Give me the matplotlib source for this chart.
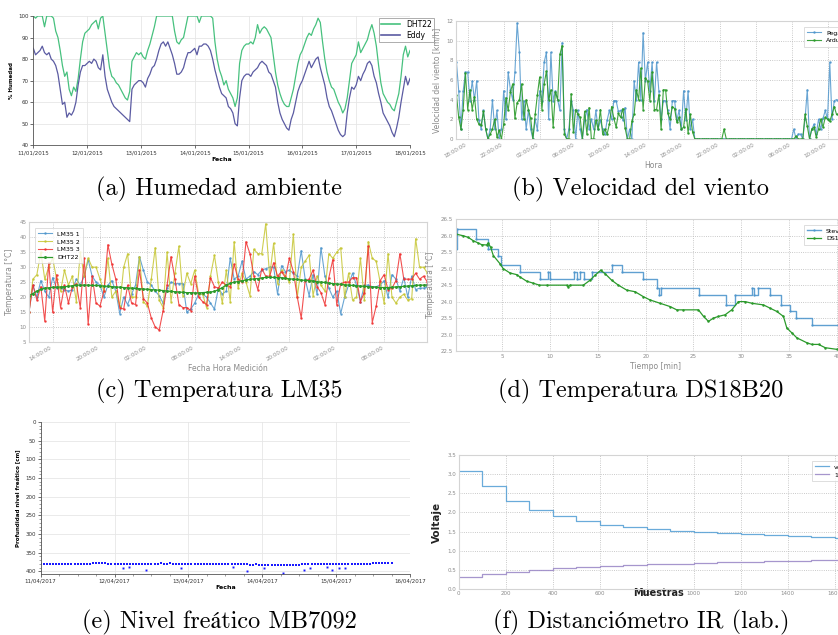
import numpy as np
import matplotlib.pyplot as plt
from matplotlib.ticker import FixedLocator, MultipleLocator, FuncFormatter

# (a) Humedad ambiente, hourly samples from 11/01/2015 00:00
dates_a = ['11/01/2015', '12/01/2015', '13/01/2015', '14/01/2015',
           '15/01/2015', '16/01/2015', '17/01/2015', '18/01/2015']
dht22_a = [100, 99, 100, 100, 100, 95, 100, 100, 100, 99, 93, 90, 84, 77, 72, 74, 66, 63, 67, 65, 71, 80, 88, 92,
           93, 94, 96, 97, 98, 94, 99, 100, 92, 84, 76, 72, 71, 69, 68, 66, 64, 62, 61, 65, 79, 81, 83, 82,
           83, 81, 80, 84, 87, 91, 95, 100, 100, 100, 100, 100, 100, 100, 100, 93, 88, 87, 89, 90, 95, 100, 100, 100,
           100, 100, 97, 100, 100, 100, 100, 100, 99, 88, 80, 75, 72, 68, 70, 66, 64, 62, 58, 62, 78, 84, 86, 87,
           87, 88, 87, 90, 96, 92, 94, 95, 94, 92, 90, 82, 74, 68, 64, 61, 59, 58, 58, 62, 66, 72, 78, 82,
           84, 87, 90, 92, 91, 94, 96, 99, 97, 88, 80, 74, 70, 67, 66, 63, 60, 58, 55, 57, 62, 70, 78, 80,
           82, 88, 83, 85, 87, 89, 93, 96, 92, 86, 77, 69, 64, 62, 60, 59, 57, 56, 60, 64, 72, 82, 86, 81, 84]
eddy_a = [85, 82, 83, 84, 86, 83, 82, 83, 80, 79, 77, 73, 66, 59, 60, 53, 55, 54, 56, 60, 68, 74, 77, 77,
          78, 79, 78, 80, 79, 76, 75, 82, 72, 66, 63, 60, 58, 57, 56, 55, 54, 53, 52, 51, 66, 68, 69, 70,
          70, 69, 67, 71, 73, 76, 77, 80, 84, 87, 88, 86, 88, 85, 82, 78, 73, 73, 74, 76, 80, 83, 83, 84,
          85, 82, 86, 86, 87, 87, 86, 84, 80, 75, 71, 67, 64, 63, 62, 58, 57, 55, 50, 49, 62, 70, 72, 73,
          73, 72, 74, 75, 76, 78, 79, 78, 77, 74, 73, 70, 67, 60, 55, 52, 50, 48, 47, 52, 55, 60, 65, 68,
          70, 73, 76, 79, 76, 78, 80, 81, 76, 72, 68, 62, 58, 56, 53, 50, 47, 45, 44, 45, 55, 62, 67, 66,
          68, 72, 70, 73, 75, 78, 79, 77, 72, 69, 64, 60, 55, 53, 51, 49, 46, 44, 48, 53, 60, 66, 72, 68, 71]

# (b) Velocidad del viento, every 15 min from 16:45 of day 1 (hours)
start_b = 16.75
pegasus = [7.8,
           4.9, 1.0, 4.9, 6.8, 6.8, 3.9, 5.9, 4.0, 5.9, 1.9, 1.0, 2.9, 1.0, 0.0, 1.0, 4.0,
           1.0, 2.9, 0.0, 1.0, 4.9, 2.0, 6.8, 5.0, 4.0, 6.8, 11.8, 8.8, 2.0, 3.9, 1.0, 2.9,
           1.0, 0.0, 2.0, 0.9, 4.9, 3.9, 7.8, 8.8, 2.0, 8.8, 3.9, 4.9, 4.0, 2.9, 9.8, 1.0,
           0.0, 1.0, 3.9, 2.9, 0.0, 2.9, 1.0, 0.0, 1.9, 3.0, 1.0, 2.0, 1.0, 2.9, 1.0, 1.9,
           1.0, 0.5, 1.9, 2.9, 2.0, 3.9, 3.9, 2.8, 2.9, 1.9, 3.2, 0.0, 1.0, 0.0, 5.9, 4.0,
           7.8, 4.0, 10.8, 5.9, 7.8, 4.9, 7.8, 3.9, 7.8, 4.9, 2.0, 3.9, 3.9, 2.9, 1.0, 3.9,
           3.9, 1.9, 2.9, 1.0, 4.9, 1.9, 4.9, 1.0, 2.0, 0.0, 0.0, 0.0,
           0, 0, 0, 0, 0, 0, 0, 0, 0, 0, 0, 0, 0, 0, 0, 0, 0, 0, 0, 0,
           0, 0, 0, 0, 0, 0, 0, 0, 0, 0, 0, 0, 0, 0, 0, 0, 0, 0, 0, 0,
           0.0, 1.0, 0.0, 0.5, 0.5, 0.0, 2.0, 5.0, 0.0, 1.0, 1.5, 0.5,
           2.0, 1.0, 2.1, 2.9, 2.0, 7.8, 2.0, 3.9, 4.0]
arduino = [4.5,
           2.2, 1.0, 3.0, 6.7, 3.0, 5.0, 3.0, 4.3, 2.0, 1.5, 1.4, 2.8, 1.0, 0.0, 0.5, 1.0,
           2.0, 0.2, 0.9, 0.0, 1.5, 4.2, 2.9, 4.8, 5.6, 2.1, 3.7, 4.0, 5.6, 2.0, 4.0, 3.0,
           2.1, 0.0, 2.5, 4.5, 6.3, 3.0, 5.6, 6.9, 4.0, 5.0, 1.2, 4.8, 4.0, 8.6, 9.5, 0.5,
           0.0, 0.0, 4.6, 0.7, 3.0, 2.5, 2.2, 0.0, 2.8, 0.5, 3.2, 0.0, 0.0, 1.9, 1.0, 3.0,
           0.5, 1.0, 0.5, 1.5, 3.3, 2.1, 1.2, 2.6, 2.2, 3.1, 1.1, 0.0, 0.0, 1.8, 2.5, 5.0,
           4.0, 7.2, 3.0, 6.2, 5.9, 3.9, 6.8, 3.0, 3.0, 4.5, 1.0, 5.0, 5.0, 2.6, 2.0, 3.3,
           3.1, 1.7, 2.2, 1.0, 1.2, 3.1, 0.6, 2.5, 0.7, 0.0, 0.0, 0.0,
           0, 0, 0, 0, 0, 0, 0, 0, 0, 0, 1.0, 0, 0, 0, 0, 0, 0, 0, 0, 0,
           0, 0, 0, 0, 0, 0, 0, 0, 0, 0, 0, 0, 0, 0, 0, 0, 0, 0, 0, 0,
           0.0, 0.0, 0.3, 0.0, 0.0, 0.0, 2.5, 1.3, 0.0, 1.0, 1.2, 0.2,
           1.0, 2.0, 1.2, 2.2, 2.0, 1.8, 2.5, 3.3, 2.5]

# (c) Temperatura LM35, every 30 min from 11:00 of day 1 (hours)
start_c = 11.0
lm35_1 = [15, 24, 20, 25.5, 22, 20, 26.5, 23, 23, 22.5, 22, 22.5, 26, 24, 27, 32.5, 27, 25, 24, 20,
          24, 25.5, 22, 14.5, 20, 17.5, 21, 24, 33.5, 29, 25, 24, 22, 20.5, 18, 23, 25, 24.5, 24.5, 24.5,
          15, 16, 18, 21, 21, 20, 18, 16, 23, 21, 22, 33, 26, 27, 32, 26, 27, 28.5, 27.5, 29,
          29.5, 30, 30, 21, 30.5, 28.5, 29, 28, 27, 35.5, 26, 20.5, 27.5, 21, 36.5, 27, 23, 20, 22, 14.5,
          20, 24, 28, 24, 18.5, 24, 24, 23.5, 23.5, 24, 25.5, 20, 27.5, 26, 22, 26.5, 20, 27, 22.5, 23,
          23, 23.5]
lm35_2 = [15, 26, 27.5, 35, 26, 30, 33, 26, 22, 29, 24, 27, 18.5, 35, 27, 33, 30, 30, 26, 22,
          33, 20, 22, 17, 30, 34.5, 20, 20, 33.5, 18.5, 17, 26, 36.5, 19, 16.5, 35, 18.5, 28, 37, 20.5,
          28, 24.5, 29, 21, 21, 16.5, 27, 34, 25, 18, 29, 18.5, 38.5, 23, 28, 25, 20.5, 36, 34.5, 34.5,
          44.5, 27, 38, 24.5, 29, 27, 25, 41, 20, 30, 32, 34, 20.5, 27, 24, 22, 34.5, 33, 35, 36.5,
          20, 28, 19, 20, 33, 19, 38.5, 33, 32, 25, 18, 34.5, 20, 18, 20, 21, 19, 19.5, 39.5, 30,
          30, 28]
lm35_3 = [15, 24, 19, 23.5, 12, 31.5, 15, 27.5, 16.5, 24, 18, 23.5, 24.5, 16.5, 33, 11, 27, 18, 17, 22,
          37.5, 31, 26, 16.5, 16, 24, 18, 17.5, 29, 19.5, 18, 13, 10, 9, 15.5, 24, 33.5, 26, 17.5, 16.5,
          16.5, 15.5, 27, 20, 18.5, 17.5, 26.5, 23.5, 23, 25, 24, 23.5, 31, 26, 25, 38.5, 34.5, 27, 22.5, 29.5,
          27, 27, 31.5, 27, 28.5, 26.5, 33, 28.5, 20, 13, 25.5, 26, 29, 23.5, 21.5, 17.5, 26.5, 32.5, 17.5, 24.5,
          25, 25, 26.5, 26.5, 18.5, 21.5, 37, 11.5, 17, 25.5, 27.5, 22.5, 23, 25.5, 34.5, 26, 26, 26, 28, 26,
          27, 25]
dht22_c = [20.5, 21.2, 22.0, 22.6, 23.0, 23.1, 23.3, 23.3, 23.4, 23.5, 23.6, 23.8, 24.0, 24.0, 24.0, 24.0, 23.9, 23.9, 23.8, 23.7,
           23.6, 23.5, 23.4, 23.3, 23.2, 23.1, 23.0, 22.9, 22.8, 22.7, 22.6, 22.5, 22.4, 22.3, 22.2, 22.0, 21.9, 21.8, 21.7, 21.6,
           21.5, 21.5, 21.4, 21.4, 21.5, 21.6, 21.7, 21.9, 22.5, 23.2, 24.0, 24.6, 25.0, 25.2, 25.5, 25.7, 25.9, 26.1, 26.2, 26.4,
           26.6, 26.6, 26.6, 26.5, 26.5, 26.3, 26.1, 26.0, 25.9, 25.7, 25.6, 25.5, 25.4, 25.1, 25.0, 24.9, 24.7, 24.5, 24.4, 24.3,
           24.1, 24.0, 23.9, 23.8, 23.7, 23.6, 23.5, 23.4, 23.3, 23.2, 23.2, 23.2, 23.3, 23.4, 23.5, 23.6, 23.7, 23.8, 23.9, 24.0,
           24.0, 24.1]

# (d) Temperatura DS18B20 (minutes)
steven_t = [0.15, 0.3, 2.3, 3.5, 4.5, 4.9, 6.85, 8.95, 9.75, 10.0, 12.5, 12.8, 13.1, 13.55, 14.35, 16.45,
            17.5, 19.75, 21.2, 21.4, 21.6, 25.6, 28.4, 29.3, 31.1, 31.3, 31.7, 33.0, 34.2, 35.1, 35.7, 37.4, 42.0]
steven_v = [25.6, 26.2, 25.9, 25.6, 25.4, 25.1, 24.9, 24.7, 24.9, 24.7, 24.9, 24.7, 24.9, 24.7, 24.9, 25.1,
            24.9, 24.7, 24.4, 24.2, 24.4, 24.2, 23.9, 24.2, 24.4, 24.2, 24.4, 24.2, 23.9, 23.7, 23.5, 23.3, 23.0]
ds18_t = [0.15, 0.92, 1.44, 1.96, 2.49, 2.84, 3.36, 3.53, 3.78, 4.06, 4.76, 5.1, 5.8, 6.5, 6.85, 7.55, 8.24,
          8.87, 9.64, 11.73, 11.9, 12.08, 13.48, 14.18, 14.7, 15.29, 15.75, 16.44, 17.14, 18.01, 18.89, 19.76,
          20.46, 21.5, 22.55, 23.25, 23.95, 25.52, 26.05, 26.57, 27.09, 27.61, 28.31, 29.0, 29.7, 30.4, 31.1,
          32.32, 33.02, 33.72, 34.41, 34.76, 35.29, 35.81, 36.86, 37.38, 38.08, 38.78, 40.0, 42.0]
ds18_v = [26.05, 26.0, 25.95, 25.85, 25.78, 25.73, 25.72, 25.78, 25.65, 25.4, 25.15, 25.0, 24.87, 24.82, 24.75,
          24.62, 24.56, 24.5, 24.5, 24.5, 24.45, 24.5, 24.5, 24.65, 24.8, 24.95, 24.85, 24.65, 24.5, 24.35, 24.3,
          24.15, 24.05, 23.95, 23.85, 23.75, 23.75, 23.75, 23.55, 23.4, 23.5, 23.55, 23.6, 23.75, 24.0, 24.0,
          23.95, 23.9, 23.8, 23.7, 23.55, 23.2, 23.05, 22.9, 22.75, 22.7, 22.7, 22.6, 22.55, 22.55]

# (e) Nivel freatico MB7092, hourly from 11/04/2017 00:00
dates_e = ['11/04/2017', '12/04/2017', '13/04/2017', '14/04/2017', '15/04/2017', '16/04/2017']
nivel = [380, 380, 379.5, 380, 380.5, 380, 379.5, 380, 380, 380.5, 380, 379.5, 380, 380, 380.5, 380, 379.5, 378, 377.5, 378, 378.5, 377.5, 379, 380,
         380.5, 380, 380.5, 380.5, 381, 380.5, 380, 380.5, 380.5, 380, 380.5, 380, 379.5, 379, 379, 378.5, 379, 379, 378.5, 379, 379.5, 380, 380, 380.5,
         381, 381, 380.5, 381, 381, 380.5, 381, 380.5, 380.5, 380, 380.5, 380, 380, 380.5, 380, 380, 381, 381, 381.5, 381, 382, 382, 381.5, 382,
         382, 382.5, 382, 382.5, 382.5, 383, 382.5, 383, 383, 382.5, 383, 382.5, 382.5, 381.5, 381, 380.5, 380, 380.5, 380, 380, 380.5, 381, 380.5, 380,
         380.5, 380, 381, 380.5, 380, 380, 379.5, 379.5, 379, 379, 379.5, 379, 378.5, 378.5, 378, 378, 377.5, 378, 377.5]
outlier_dia = [1.11, 1.19, 1.42, 1.90, 2.61, 2.79, 3.02, 3.28, 3.56, 3.65, 3.87, 3.95, 4.04, 4.12]
outlier_cm = [392, 388, 396, 392, 388, 399, 392, 404, 396, 391, 387, 396, 391, 391]

# (f) Distanciometro IR
muestras = [0, 100, 200, 300, 400, 500, 600, 700, 800, 900, 1000, 1100, 1200, 1300, 1400, 1500, 1600, 1700]
volt = [3.1, 2.69, 2.3, 2.06, 1.9, 1.77, 1.68, 1.62, 1.56, 1.51, 1.49, 1.45, 1.43, 1.40, 1.37, 1.36, 1.34, 1.34]
inv_volt = [0.32, 0.376, 0.43, 0.49, 0.53, 0.57, 0.595, 0.62, 0.64, 0.66, 0.67, 0.69, 0.70, 0.72, 0.73, 0.74, 0.75, 0.75]

captions = ['(a) Humedad ambiente', '(b) Velocidad del viento',
            '(c) Temperatura LM35', '(d) Temperatura DS18B20',
            '(e) Nivel freático MB7092', '(f) Distanciómetro IR (lab.)']

W, H = 838, 635
fig = plt.figure(figsize=(W / 100, H / 100), dpi=100)


def box(l, t, r, b):
    return [l / W, 1 - b / H, (r - l) / W, (b - t) / H]


def soft(ax):
    for s in ax.spines.values():
        s.set_color('#d4d4d4')
        s.set_linewidth(0.8)
    ax.grid(True, ls=':', color='#b8b8b8', lw=0.6)
    ax.tick_params(length=0, labelsize=4, labelcolor='#8a8a8a', pad=2)


def plain(ax):
    for s in ['top', 'right']:
        ax.spines[s].set_visible(False)
    for s in ['left', 'bottom']:
        ax.spines[s].set_color('#555555')
        ax.spines[s].set_linewidth(0.6)
    ax.grid(True, color='#e6e6e6', lw=0.6)
    ax.tick_params(length=2, width=0.5, labelsize=4, colors='#333333', pad=1.5)
    ax.set_axisbelow(True)


def legend_at(ax, x, y, **kw):
    leg = ax.legend(loc='upper left', bbox_to_anchor=(x / W, 1 - y / H), bbox_transform=fig.transFigure,
                    fontsize=4.5, fancybox=False, borderpad=0.5, labelspacing=0.4, handlelength=2.2, **kw)
    leg.get_frame().set_edgecolor('#cfcfcf')
    leg.get_frame().set_linewidth(0.6)
    return leg


# (a)
ax = fig.add_axes(box(33.3, 16, 410, 145.3))
plain(ax)
ha = np.arange(len(dht22_a))
ax.plot(ha, dht22_a, color='#47c17e', lw=0.9, label='DHT22')
ax.plot(ha, eddy_a, color='#5b5ba2', lw=0.9, label='Eddy')
ax.set_xlim(0, 168)
ax.set_ylim(40, 100)
ax.xaxis.set_major_locator(FixedLocator(np.arange(0, 169, 24)))
ax.set_xticklabels(dates_a)
ax.yaxis.set_major_locator(MultipleLocator(10))
ax.yaxis.set_major_formatter(FuncFormatter(lambda v, p: f'{v:.0f}'))
ax.set_xlabel('Fecha', fontsize=4.5, fontweight='bold', labelpad=1)
ax.set_ylabel('% Humedad', fontsize=4, fontweight='bold', labelpad=3)
leg = ax.legend(loc='upper left', bbox_to_anchor=(375 / W, 1 - 14 / H), bbox_transform=fig.transFigure,
                fontsize=5.5, fancybox=False, borderpad=0.3, labelspacing=0.2, handlelength=2.5)
leg.get_frame().set_edgecolor('#888888')
leg.get_frame().set_linewidth(0.6)
for l in leg.get_lines():
    l.set_linewidth(1.2)

# (b)
ax = fig.add_axes(box(456, 21, 850, 139))
soft(ax)
hb = start_b + 0.25 * np.arange(len(pegasus))
ax.plot(hb, pegasus, color='#4f96cc', lw=0.8, marker='.', ms=1.6, alpha=0.85, label='Pegasus')
ax.plot(hb, arduino, color='#2b9a2b', lw=0.8, marker='.', ms=1.6, alpha=0.9, label='Arduino')
ax.set_xlim(16.7, 60.5)
ax.set_ylim(0, 12)
ax.xaxis.set_major_locator(FixedLocator(np.arange(18, 60, 4)))
ax.xaxis.set_major_formatter(FuncFormatter(lambda v, p: f'{int(v) % 24:02d}:00:00'))
ax.yaxis.set_major_locator(MultipleLocator(2))
for t in ax.get_xticklabels():
    t.set_rotation(30)
    t.set_ha('right')
ax.set_xlabel('Hora', fontsize=5.5, color='#8a8a8a', labelpad=2)
ax.set_ylabel('Velocidad del viento [km/h]', fontsize=5.5, color='#8a8a8a', labelpad=4)
legend_at(ax, 801, 24)

# (c)
ax = fig.add_axes(box(29.3, 222.3, 426.7, 342))
soft(ax)
hc = start_c + 0.5 * np.arange(len(lm35_1))
ax.plot(hc, lm35_1, color='#4f96cc', lw=0.8, marker='.', ms=1.6, alpha=0.85, label='LM35 1')
ax.plot(hc, lm35_2, color='#c6c634', lw=0.8, marker='.', ms=1.6, alpha=0.85, label='LM35 2')
ax.plot(hc, lm35_3, color='#f03232', lw=0.8, marker='.', ms=1.6, alpha=0.85, label='LM35 3')
ax.plot(hc, dht22_c, color='#2b9a2b', lw=0.9, marker='.', ms=2.2, label='DHT22')
ax.set_xlim(11.04, 61.4)
ax.set_ylim(5, 45)
ax.xaxis.set_major_locator(FixedLocator(np.arange(14, 61, 6)))
ax.xaxis.set_major_formatter(FuncFormatter(lambda v, p: f'{int(v) % 24:02d}:00:00'))
ax.yaxis.set_major_locator(MultipleLocator(5))
for t in ax.get_xticklabels():
    t.set_rotation(30)
    t.set_ha('right')
ax.set_xlabel('Fecha Hora Medición', fontsize=5.5, color='#8a8a8a', labelpad=2)
ax.set_ylabel('Temperatura [°C]', fontsize=5.5, color='#8a8a8a', labelpad=4)
legend_at(ax, 32, 225)

# (d)
ax = fig.add_axes(box(456, 219.3, 856, 351))
soft(ax)
ax.step(steven_t, steven_v, where='post', color='#4f96cc', lw=1.0, marker='.', ms=1.4, alpha=0.9, label='Steven')
ax.plot(ds18_t, ds18_v, color='#2b9a2b', lw=0.9, marker='.', ms=1.6, label='DS18B20')
ax.set_xlim(0.157, 42)
ax.set_ylim(22.5, 26.5)
ax.xaxis.set_major_locator(MultipleLocator(5))
ax.yaxis.set_major_locator(MultipleLocator(0.5))
ax.yaxis.set_major_formatter(FuncFormatter(lambda v, p: f'{v:.1f}'))
ax.set_xlabel('Tiempo [min]', fontsize=5.5, color='#8a8a8a', labelpad=2)
ax.set_ylabel('Temperatura [°C]', fontsize=5.5, color='#8a8a8a', labelpad=4)
legend_at(ax, 801, 222)

# (e)
ax = fig.add_axes(box(40.7, 422, 410, 574))
plain(ax)
he = np.arange(len(nivel)) / 24
ax.plot(he, nivel, 's', color='#1a1aff', ms=2.0, mew=0)
ax.plot(outlier_dia, outlier_cm, 's', color='#1a1aff', ms=1.4, mew=0)
ax.set_xlim(0, 5)
ax.set_ylim(407, 0)
ax.xaxis.set_major_locator(FixedLocator(np.arange(0, 6)))
ax.set_xticklabels(dates_e)
ax.xaxis.set_minor_locator(MultipleLocator(0.25))
ax.yaxis.set_major_locator(MultipleLocator(50))
ax.yaxis.set_minor_locator(MultipleLocator(10))
ax.tick_params(which='minor', length=1.2, width=0.4, colors='#555555')
ax.set_xlabel('Fecha', fontsize=4.5, fontweight='bold', labelpad=1)
ax.set_ylabel('Profundidad nivel freático [cm]', fontsize=4, fontweight='bold', labelpad=3)

# (f)
ax = fig.add_axes(box(458.7, 455.3, 858, 588.7))
soft(ax)
ax.step(muestras, volt, where='post', color='#5aa2d6', lw=0.9, alpha=0.9, label='volt')
ax.step(muestras, inv_volt, where='post', color='#9d8bc8', lw=0.9, alpha=0.9, label='1/volt')
ax.set_xlim(0, 1700)
ax.set_ylim(0, 3.5)
ax.xaxis.set_major_locator(MultipleLocator(200))
ax.yaxis.set_major_locator(MultipleLocator(0.5))
ax.yaxis.set_major_formatter(FuncFormatter(lambda v, p: f'{v:.1f}'))
ax.set_xlabel('Muestras', fontsize=7, fontweight='bold', color='#222222', labelpad=-6)
ax.set_ylabel('Voltaje', fontsize=7.5, fontweight='bold', color='#222222', labelpad=4)
legend_at(ax, 809, 458)

# captions under each panel
cx = [219, 641]
cy = [189, 391, 622]
for i, c in enumerate(captions):
    fig.text(cx[i % 2] / W, 1 - cy[i // 2] / H, c, fontsize=17.5, ha='center', va='center',
             family=['cmr10', 'STIXGeneral'])

fig.savefig('out.png', dpi=100)
